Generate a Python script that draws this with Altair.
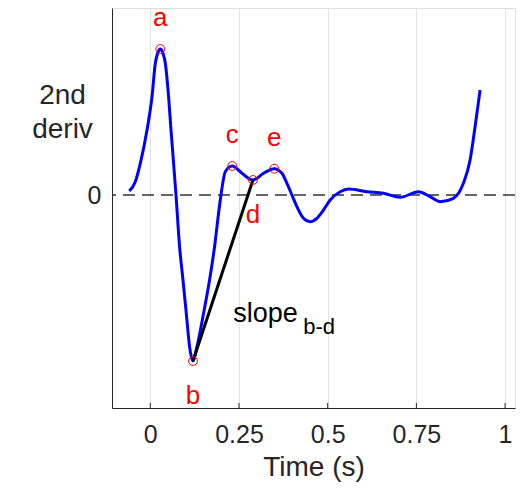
import altair as alt
import pandas as pd

# Curve (time in s, 2nd derivative in arbitrary units)
t = [-0.0592, -0.0423, -0.0282, -0.0093, 0.0048, 0.0141, 0.0206, 0.0282, 0.0358, 0.0423,
     0.0515, 0.0583, 0.0656, 0.0724, 0.0825, 0.0921, 0.1014, 0.1107, 0.1203, 0.1315,
     0.1501, 0.1670, 0.1811, 0.1924, 0.1992, 0.2113, 0.2310, 0.2583, 0.2893, 0.3192,
     0.3493, 0.3710, 0.3851, 0.3992, 0.4132, 0.4318, 0.4507, 0.4696, 0.4882, 0.5070,
     0.5352, 0.5586, 0.6104, 0.6572, 0.7042, 0.7558, 0.7887, 0.8169, 0.8544, 0.8825,
     0.9014, 0.9155, 0.9296]
d2 = [0.04, 0.133, 0.317, 0.65, 0.983, 1.317, 1.417, 1.46, 1.417, 1.317,
      0.983, 0.65, 0.317, 0.0, -0.517, -0.85, -1.183, -1.517, -1.66, -1.517,
      -1.183, -0.85, -0.517, -0.183, 0.0, 0.233, 0.29, 0.217, 0.15, 0.217,
      0.263, 0.217, 0.117, 0.0, -0.117, -0.233, -0.267, -0.233, -0.15, -0.05,
      0.033, 0.06, 0.033, 0.017, -0.023, 0.033, -0.017, -0.067, -0.033, 0.117,
      0.35, 0.683, 1.05]

# Fiducial points
pt_names = ["a", "b", "c", "d", "e"]
pt_t = [0.0282, 0.1203, 0.2310, 0.2893, 0.3493]
pt_v = [1.46, -1.66, 0.29, 0.15, 0.263]
pt_side = ["above", "below", "above", "below", "above"]

# slope b-d annotation anchor
slope_t = [0.2338]
slope_v = [-1.267]

x_ticks = [0, 0.25, 0.5, 0.75, 1]
x_domain = [-0.108, 1.028]
y_domain = [-2.13, 1.87]

curve = pd.DataFrame({"t": t, "v": d2})
pts = pd.DataFrame({"name": pt_names, "t": pt_t, "v": pt_v, "side": pt_side})
seg = pts[pts["name"].isin(["b", "d"])]
ticks = pd.DataFrame({"t": x_ticks})
zero = pd.DataFrame({"v": [0]})
slope = pd.DataFrame({"t": slope_t, "v": slope_v})

FONT = "Liberation Sans"
AX = "#262626"

xs = alt.Scale(domain=x_domain, nice=False, zero=False)
ys = alt.Scale(domain=y_domain, nice=False, zero=False)

x_axis = alt.Axis(values=x_ticks, labelExpr="datum.value + ''", grid=True, gridColor="#e3e3e3", gridWidth=1,
                  tickSize=0, labelPadding=34, labelBaseline="alphabetic",
                  labelFontSize=25, labelColor=AX, labelFont=FONT,
                  domainColor=AX, domainWidth=1,
                  title="Time (s)", titleFontSize=28, titleFont=FONT, titleFontWeight="normal",
                  titleColor=AX, titleBaseline="alphabetic", titleY=67)
y_axis = alt.Axis(values=[0], labelExpr="datum.value + ''", grid=False, tickSize=0, labelPadding=11,
                  labelFontSize=25, labelColor=AX, labelFont=FONT,
                  domainColor=AX, domainWidth=1,
                  title=["2nd", "deriv"], titleAngle=0, titleAlign="center",
                  titleBaseline="alphabetic", titleX=-50, titleY=95,
                  titleFontSize=28, titleFont=FONT, titleFontWeight="normal",
                  titleColor=AX, titleLineHeight=34)

base_line = alt.Chart(zero).mark_rule(color="#333333", strokeWidth=1.3, strokeDash=[12, 7]).encode(
    y=alt.Y("v:Q", scale=ys, axis=y_axis)
)

curve_line = alt.Chart(curve).mark_line(color="#0000ff", strokeWidth=3, interpolate="monotone").encode(
    x=alt.X("t:Q", scale=xs, axis=x_axis),
    y=alt.Y("v:Q", scale=ys, axis=y_axis),
)

seg_line = alt.Chart(seg).mark_line(color="black", strokeWidth=3).encode(
    x=alt.X("t:Q", scale=xs), y=alt.Y("v:Q", scale=ys)
)

markers = alt.Chart(pts).mark_point(shape="circle", filled=False, color="red", opacity=1,
                                    size=78, strokeWidth=1).encode(
    x=alt.X("t:Q", scale=xs), y=alt.Y("v:Q", scale=ys)
)

lab_above = alt.Chart(pts[pts["side"] == "above"]).mark_text(
    color="red", fontSize=26, font=FONT, baseline="alphabetic", align="center", dy=-23
).encode(x=alt.X("t:Q", scale=xs), y=alt.Y("v:Q", scale=ys), text="name:N")

lab_below = alt.Chart(pts[pts["side"] == "below"]).mark_text(
    color="red", fontSize=26, font=FONT, baseline="alphabetic", align="center", dy=43
).encode(x=alt.X("t:Q", scale=xs), y=alt.Y("v:Q", scale=ys), text="name:N")

slope_txt = alt.Chart(slope).mark_text(
    color="black", fontSize=27, font=FONT, baseline="alphabetic", align="left", text="slope"
).encode(x=alt.X("t:Q", scale=xs), y=alt.Y("v:Q", scale=ys))

slope_sub = alt.Chart(slope).mark_text(
    color="black", fontSize=22, font=FONT, baseline="alphabetic", align="left", text="b-d", dx=70, dy=12
).encode(x=alt.X("t:Q", scale=xs), y=alt.Y("v:Q", scale=ys))

tick_marks = alt.Chart(ticks).mark_rule(color=AX, strokeWidth=1).encode(
    x=alt.X("t:Q", scale=xs), y=alt.value(395), y2=alt.value(400)
)

chart = alt.layer(
    base_line, curve_line, seg_line, markers, lab_above, lab_below, slope_txt, slope_sub, tick_marks
).properties(
    width=403, height=400,
    padding={"left": 104, "top": 0, "right": 8, "bottom": 77},
    autosize=alt.AutoSizeParams(type="none"),
).configure_view(stroke=None).configure(background="white")

chart.save("out.html", embed_options={"renderer": "svg", "actions": False})
